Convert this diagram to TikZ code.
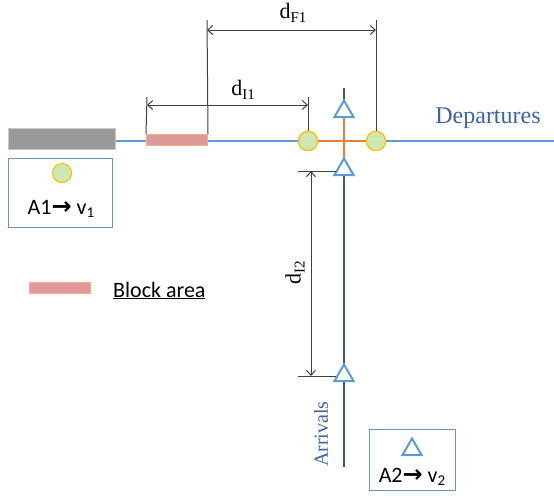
\documentclass[tikz,border=0pt]{standalone}
\usepackage{fontspec}
\setmainfont{Liberation Serif}
\newfontfamily\legfont{Carlito}
\newfontfamily\arrfont{DejaVu Sans}
\usetikzlibrary{shapes.geometric,arrows.meta}
\definecolor{depblue}{HTML}{5B9BD5}
\definecolor{arrdark}{HTML}{44546A}
\definecolor{orng}{HTML}{ED7D31}
\definecolor{circfill}{HTML}{CDE8B5}
\definecolor{circedge}{HTML}{FFC000}
\definecolor{pinkfill}{HTML}{DE9A9A}
\definecolor{pinkedge}{HTML}{F4B183}
\definecolor{txtblue}{HTML}{3C64A6}
\definecolor{boxblue}{HTML}{6A92C4}
\definecolor{dimgray}{HTML}{404040}
\newcommand{\dsub}[1]{\raisebox{-4pt}{\fontsize{15}{15}\selectfont #1}}
\newcommand{\lsub}[1]{\raisebox{-3.5pt}{\fontsize{15}{15}\selectfont #1}}
\newcommand{\legarrow}{{\arrfont\bfseries\fontsize{24}{24}\selectfont →}}
\tikzset{
  trackline/.style={line width=2pt},
  sig/.style={circle, draw=circedge, fill=circfill, line width=1.2pt, minimum width=17pt, minimum height=19pt, inner sep=0pt},
  tri/.style={regular polygon, regular polygon sides=3, draw=depblue, fill=white, line width=2pt, minimum size=22pt, inner sep=0pt},
  extline/.style={draw=dimgray, line width=1pt},
  dimarrow/.style={draw=dimgray, line width=1pt, {Straight Barb[length=5pt,width=9pt]}-{Straight Barb[length=5pt,width=9pt]}},
  legbox/.style={draw=boxblue, line width=1pt, inner sep=0pt},
  dimlab/.style={font=\fontsize{22}{24}\selectfont, inner sep=0pt},
  leglab/.style={font=\legfont\fontsize{22}{24}\selectfont, inner sep=0pt, anchor=base},
}
\begin{document}
\begin{tikzpicture}[x=1pt,y=-1pt]
\useasboundingbox (0,0) rectangle (554,499);
% track ends
\node[draw=gray!45, fill=gray!80, minimum width=107pt, minimum height=21pt, inner sep=0pt, line width=1pt] (gb) at (61.5,138.5) {};
\coordinate (depend) at (554,141);
\coordinate (arrtop) at (344,88);
\coordinate (arrbot) at (344,467);
\coordinate (otop) at (344,117);
\coordinate (obot) at (344,160);
% departures line
\draw[trackline, draw=depblue] (gb.east |- depend) -- (depend);
% arrivals line
\draw[line width=2.5pt, draw=arrdark] (arrtop) -- (arrbot);
% block area
\node[draw=pinkedge, fill=pinkfill, line width=1pt, minimum width=61pt, minimum height=11pt, inner sep=0pt] (pb) at (177,140) {};
% signals
\node[sig] (c1) at (308,141) {};
\node[sig] (c2) at (376,141) {};
% orange conflict zone
\draw[trackline, draw=orng] (c1.center) -- (c2.center);
\draw[trackline, draw=orng] (otop) -- (obot);
\node[sig] at (c1) {};
\node[sig] at (c2) {};
% triangles
\node[tri] (t1) at (344,111.5) {};
\node[tri] (t2) at (344,169.5) {};
\node[tri] (t3) at (344,375.5) {};
% dF1
\coordinate (f1l) at (207,20);
\coordinate (f1r) at (376,20);
\draw[extline] (f1l) -- (pb.north east);
\draw[extline] (f1r) -- (c2.north);
\draw[dimarrow] (207,30) -- (376,30);
\node[dimlab] (lf1) at (293,13) {d\dsub{F1}};
% dI1
\coordinate (i1l) at (147,97);
\coordinate (i1r) at (308,97);
\draw[extline] (i1l) -- (pb.north west);
\draw[extline] (i1r) -- (c1.north);
\draw[dimarrow] (147,105) -- (308,105);
\node[dimlab] (li1) at (243,90) {d\dsub{I1}};
% dI2
\coordinate (i2t) at (298,171);
\coordinate (i2b) at (298,376);
\draw[extline] (i2t) -- (t2.west |- i2t);
\draw[extline] (i2b) -- (t3.west |- i2b);
\draw[dimarrow] (311,171) -- (311,376);
\node[dimlab, rotate=90] (li2) at (295,273) {d\dsub{I2}};
% track labels
\node[font=\fontsize{24}{28}\selectfont, text=txtblue, inner sep=0pt] (dep) at (488,118) {Departures};
\node[font=\fontsize{20}{24}\selectfont, text=txtblue, inner sep=0pt, rotate=90] (arr) at (321,434) {Arrivals};
% legend 1
\node[legbox, minimum width=104pt, minimum height=69pt] (lg1) at (60,192.5) {};
\node[sig] (lc) at (62,173) {};
\node[leglab] (lt1) at (61,214) {A1\legarrow{} v\lsub{1}};
% legend 2
\node[legbox, minimum width=86pt, minimum height=61pt] (lg2) at (412,459.5) {};
\node[tri] (lt) at (412,449.5) {};
\node[leglab] (lt2) at (412,482) {A2\legarrow{} v\lsub{2}};
% block legend
\node[draw=pinkedge, fill=pinkfill, line width=1pt, minimum width=61pt, minimum height=11pt, inner sep=0pt] (bl) at (60,287.5) {};
\node[leglab, anchor=base west] (blt) at (113,297) {\underline{Block area}};
\end{tikzpicture}
\end{document}
